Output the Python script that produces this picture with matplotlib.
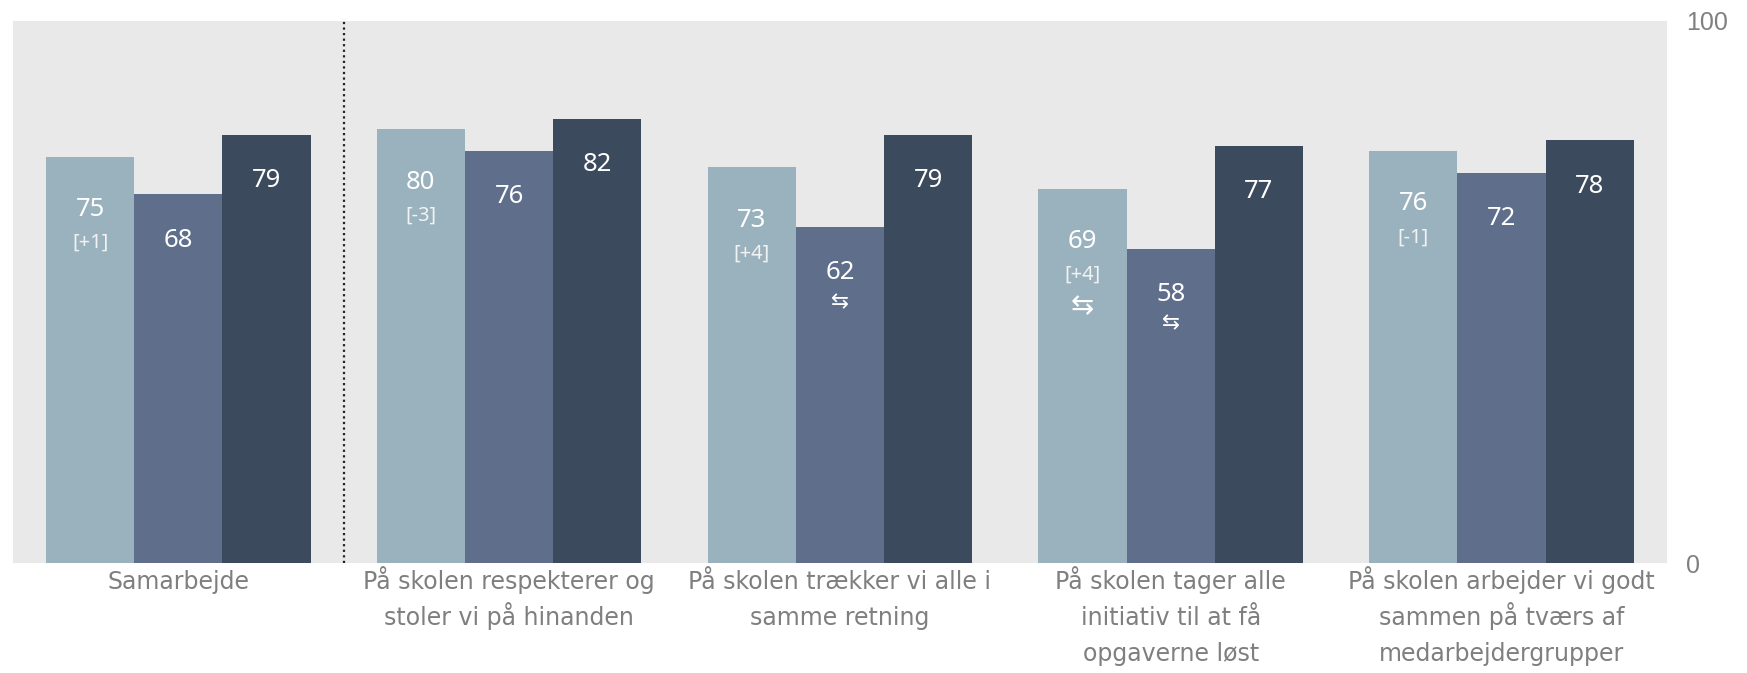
import numpy as np
import matplotlib
matplotlib.use('Agg')
import matplotlib.pyplot as plt


categories = [
    'Samarbejde',
    'På skolen respekterer og\nstoler vi på hinanden',
    'På skolen trækker vi alle i\nsamme retning',
    'På skolen tager alle\ninitiativ til at få\nopgaverne løst',
    'På skolen arbejder vi godt\nsammen på tværs af\nmedarbejdergrupper',
]
school = [75, 80, 73, 69, 76]
mid_group = [68, 76, 62, 58, 72]
top_group = [79, 82, 79, 77, 78]
school_change = ['[+1]', '[-3]', '[+4]', '[+4]', '[-1]']
school_sig = [False, False, False, True, False]
mid_sig = [False, False, True, True, False]

colors = ['#9AB2BE', '#5F6F8B', '#3C4A5E']
value_font = 'Noto Sans'

fig = plt.figure(figsize=(17.47, 6.73), dpi=100)
ax = fig.add_axes([0.0074, 0.1634, 0.9468, 0.8054])
ax.set_facecolor('#E9E9E9')

x = np.arange(len(categories))
w = 0.8 / 3

ax.bar(x - w, school, w, color=colors[0])
ax.bar(x, mid_group, w, color=colors[1])
ax.bar(x + w, top_group, w, color=colors[2])

# value labels inside the bars
for i in range(len(categories)):
    ax.annotate(str(school[i]), (x[i] - w, school[i]), xytext=(0, -38),
                textcoords='offset points', ha='center', va='center',
                color='white', fontsize=18.5, family=value_font)
    ax.annotate(school_change[i], (x[i] - w, school[i]), xytext=(0, -62),
                textcoords='offset points', ha='center', va='center',
                color='#F2F2F2', fontsize=14.5, family=value_font)
    if school_sig[i]:
        ax.annotate('\u21c6', (x[i] - w, school[i]), xytext=(0, -84),
                    textcoords='offset points', ha='center', va='center',
                    color='white', fontsize=20, family='DejaVu Sans')

    ax.annotate(str(mid_group[i]), (x[i], mid_group[i]), xytext=(0, -33),
                textcoords='offset points', ha='center', va='center',
                color='white', fontsize=18.5, family=value_font)
    if mid_sig[i]:
        ax.annotate('\u21c6', (x[i], mid_group[i]), xytext=(0, -54),
                    textcoords='offset points', ha='center', va='center',
                    color='white', fontsize=15.5, family='DejaVu Sans')

    ax.annotate(str(top_group[i]), (x[i] + w, top_group[i]), xytext=(0, -33),
                textcoords='offset points', ha='center', va='center',
                color='white', fontsize=18.5, family=value_font)

ax.axvline(0.5, color='#222222', linestyle=(0, (1, 1.5)), linewidth=1.6)

ax.set_xlim(-0.5, 4.5)
ax.set_ylim(0, 100)

# category labels, one line at a time so the rows line up
ax.set_xticks([])
for i, label in enumerate(categories):
    for j, line in enumerate(label.split('\n')):
        ax.annotate(line, (x[i], 0), xycoords=('data', 'axes fraction'),
                    xytext=(0, -19 - 25.7 * j), textcoords='offset points',
                    ha='center', va='baseline', fontsize=17,
                    color='#7F7F7F', family='DejaVu Sans')

ax.yaxis.tick_right()
ax.set_yticks([0, 100])
ax.set_yticklabels(['0', '100'], fontsize=18, color='#808080', family='Liberation Sans')
ax.tick_params(axis='y', length=0, pad=14)

for s in ax.spines.values():
    s.set_visible(False)

fig.savefig('out.png', dpi=100)
